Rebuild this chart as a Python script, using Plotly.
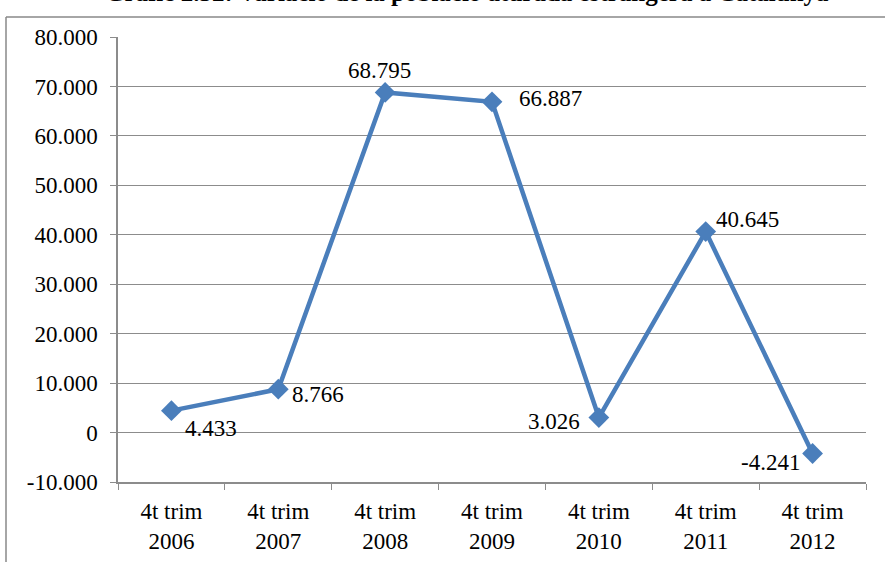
import plotly.graph_objects as go

categories = ["4t trim<br>2006", "4t trim<br>2007", "4t trim<br>2008", "4t trim<br>2009",
              "4t trim<br>2010", "4t trim<br>2011", "4t trim<br>2012"]
values = [4433, 8766, 68795, 66887, 3026, 40645, -4241]
value_labels = ["4.433", "8.766", "68.795", "66.887", "3.026", "40.645", "-4.241"]
y_ticks = [-10000, 0, 10000, 20000, 30000, 40000, 50000, 60000, 70000, 80000]
y_tick_labels = ["-10.000", "0", "10.000", "20.000", "30.000", "40.000",
                 "50.000", "60.000", "70.000", "80.000"]
title_text = "Gràfic 2.32: Variació de la població aturada estrangera a Catalunya"

# label offsets (pixels) from each point, positive dy = up
label_dx = [40, 40, -6, 58, -45, 42, -42]
label_dy = [-18, -5, 22, 3, -4, 12, -9]

W, H = 885, 562
L, R, T, B = 118, 19, 37, 80
pw, ph = W - L - R, H - T - B

def px_x(p):
    return (p - L) / pw

def px_y(p):
    return 1 - (p - T) / ph

font_family = "Liberation Serif"
fs = 23
grid_col = "#8c8c8c"
line_col = "#4a7ebb"

fig = go.Figure()
fig.add_trace(go.Scatter(
    x=categories, y=values, mode="lines+markers",
    line=dict(color=line_col, width=4.5),
    marker=dict(symbol="diamond", size=16, color=line_col),
    cliponaxis=False, showlegend=False,
))

annotations = [
    dict(text="<b>" + title_text + "</b>", xref="paper", yref="paper",
         x=px_x(467), y=px_y(8), xanchor="center", yanchor="bottom",
         showarrow=False, font=dict(family=font_family, size=25, color="black")),
]
for c, v, t, dx, dy in zip(categories, values, value_labels, label_dx, label_dy):
    annotations.append(dict(
        x=c, y=v, xref="x", yref="y", text=t, showarrow=False,
        xanchor="center", yanchor="middle", xshift=dx, yshift=dy,
        font=dict(family=font_family, size=fs, color="black"),
    ))

fig.update_layout(
    width=W, height=H,
    margin=dict(l=L, r=R, t=T, b=B, autoexpand=False),
    paper_bgcolor="white", plot_bgcolor="white",
    font=dict(family=font_family, size=fs, color="black"),
    xaxis=dict(
        type="category", showgrid=False, showline=True, linecolor=grid_col, linewidth=1.5,
        ticks="outside", tickson="boundaries", ticklen=6, tickcolor=grid_col,
        ticklabelstandoff=8, automargin=False,
        tickfont=dict(family=font_family, size=fs), range=[-0.5, 6.5], fixedrange=True,
    ),
    yaxis=dict(
        range=[-10000, 80000], tickvals=y_ticks, ticktext=y_tick_labels,
        showgrid=True, gridcolor=grid_col, gridwidth=1.2, zeroline=False,
        showline=True, linecolor=grid_col, linewidth=1.5,
        ticks="outside", ticklen=6, tickcolor=grid_col,
        ticklabelstandoff=8, automargin=False,
        tickfont=dict(family=font_family, size=fs),
    ),
    shapes=[
        dict(type="line", xref="paper", yref="paper", x0=px_x(6), x1=px_x(W + 5),
             y0=px_y(17), y1=px_y(17), line=dict(color="#888888", width=1.5)),
        dict(type="line", xref="paper", yref="paper", x0=px_x(6), x1=px_x(6),
             y0=px_y(17), y1=px_y(H + 5), line=dict(color="#888888", width=1.5)),
    ],
    annotations=annotations,
)

fig.write_html("out.html", config={"displayModeBar": False})

with open("out.html", "r", encoding="utf-8") as f:
    html = f.read()
html = html.replace("<head>", "<head><style>html,body{margin:0;padding:0;overflow:hidden;}</style>", 1)
with open("out.html", "w", encoding="utf-8") as f:
    f.write(html)
